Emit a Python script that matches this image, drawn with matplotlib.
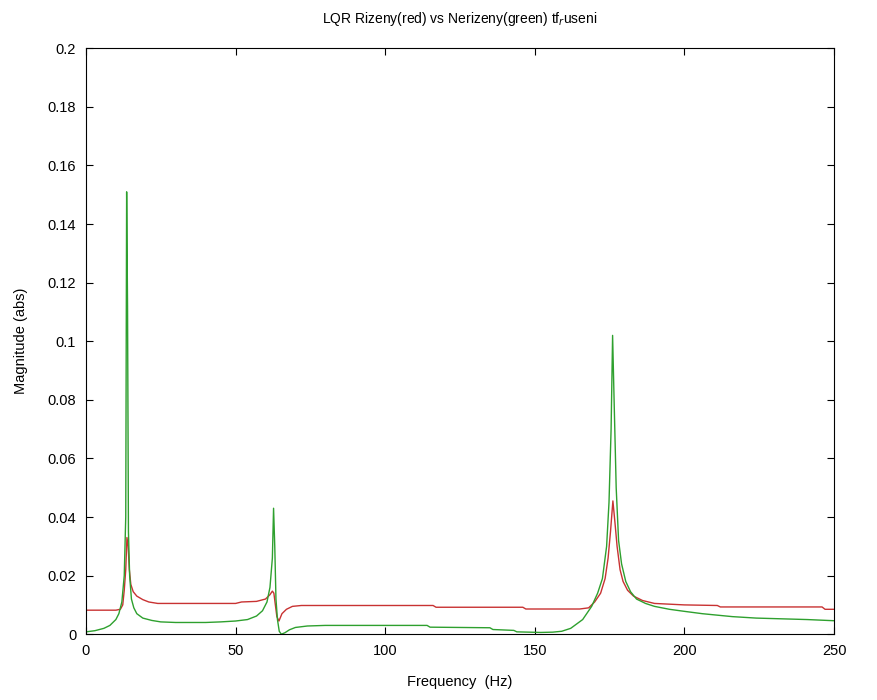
import numpy as np
import matplotlib
matplotlib.use("Agg")
import matplotlib.pyplot as plt
from matplotlib.ticker import FuncFormatter

# Nerizeny (green)
freq_green = [0, 3, 6, 8, 10, 11, 12, 12.8, 13.3, 13.6, 13.9, 14.2, 14.6, 15.2, 16, 17, 19, 22, 25,
              30, 40, 45, 50, 54, 57, 59, 60.5, 61.5, 62.3, 62.7, 63.1, 63.5, 64, 64.6, 65.3, 66.5,
              68, 70, 74, 80, 114, 115, 135, 136, 143, 144, 152, 156, 159, 162, 166, 169, 171,
              172.6, 174, 174.8, 175.5, 176.0, 176.5, 177.2, 178, 179, 180.4, 182, 184, 187, 190,
              195, 200, 206, 211, 216, 224, 241, 250]
mag_green = [0.0008, 0.0012, 0.002, 0.003, 0.005, 0.007, 0.011, 0.02, 0.04, 0.151, 0.112, 0.035,
             0.02, 0.012, 0.009, 0.007, 0.0055, 0.0047, 0.0042,
             0.004, 0.004, 0.0042, 0.0045, 0.005, 0.0062, 0.008, 0.011, 0.016, 0.026, 0.043, 0.03,
             0.012, 0.005, 0.001, 0.0, 0.0005,
             0.0015, 0.0023, 0.0028, 0.003, 0.003, 0.0024, 0.0022, 0.0016, 0.0013, 0.0008, 0.0006,
             0.0007, 0.001, 0.002, 0.005, 0.0095, 0.014,
             0.019, 0.03, 0.045, 0.07, 0.102, 0.08, 0.05, 0.032, 0.024, 0.018, 0.0145, 0.012,
             0.0105, 0.0095, 0.0085, 0.0078, 0.007, 0.0065, 0.006, 0.0055, 0.005, 0.0046]

# LQR rizeny (red)
freq_red = [0, 10, 11.5, 12.3, 12.8, 13.3, 13.7, 14.1, 14.5, 15.0, 15.8, 17, 19, 21, 24, 50, 52,
            57, 60, 61.5, 62.3, 62.8, 63.3, 63.8, 64.5, 65.5, 67, 69, 72, 116, 117, 146, 147,
            165, 168, 170, 172, 173.5, 174.5, 175.3, 176.1, 176.8, 177.5, 178.5, 179.5, 181,
            183, 186, 190, 200, 211, 212, 246, 247, 250]
mag_red = [0.0082, 0.0082, 0.0085, 0.01, 0.015, 0.022, 0.033, 0.03, 0.022, 0.017, 0.0145, 0.013,
           0.0118, 0.011, 0.0105, 0.0105, 0.011,
           0.0112, 0.012, 0.0135, 0.0147, 0.014, 0.01, 0.006, 0.0045, 0.007, 0.0085, 0.0095,
           0.0098, 0.0098, 0.0092, 0.0092, 0.0086,
           0.0086, 0.009, 0.011, 0.014, 0.019, 0.026, 0.035, 0.0455, 0.038, 0.03, 0.022, 0.018,
           0.015, 0.013, 0.0115, 0.0105, 0.01, 0.0098, 0.0093, 0.0093, 0.0085, 0.0085]

x_ticks = [0, 50, 100, 150, 200, 250]
y_ticks = [0, 0.02, 0.04, 0.06, 0.08, 0.1, 0.12, 0.14, 0.16, 0.18, 0.2]

plt.rcParams["font.family"] = ["Liberation Sans", "DejaVu Sans"]

fig = plt.figure(figsize=(8.77, 7.0), dpi=100)
ax = fig.add_axes([0.098, 0.094, 0.853, 0.837])

ax.plot(freq_red, mag_red, color="#c83232", linewidth=1.0)
ax.plot(freq_green, mag_green, color="#2ea02e", linewidth=1.0)

ax.set_xlim(0, 250)
ax.set_ylim(0, 0.2)
ax.set_xticks(x_ticks)
ax.set_yticks(y_ticks)
ax.yaxis.set_major_formatter(FuncFormatter(lambda v, p: "%g" % v))
ax.tick_params(direction="in", top=True, right=True, length=5, labelsize=10.5, pad=7)
for s in ax.spines.values():
    s.set_linewidth(0.8)

ax.set_title("LQR Rizeny(red) vs Nerizeny(green) tf$_r$useni", fontsize=10, pad=18)
ax.set_xlabel("Frequency  (Hz)", fontsize=10.5, labelpad=12)
ax.set_ylabel("Magnitude (abs)", fontsize=10.5, labelpad=14)

fig.savefig("out.png", dpi=100)
